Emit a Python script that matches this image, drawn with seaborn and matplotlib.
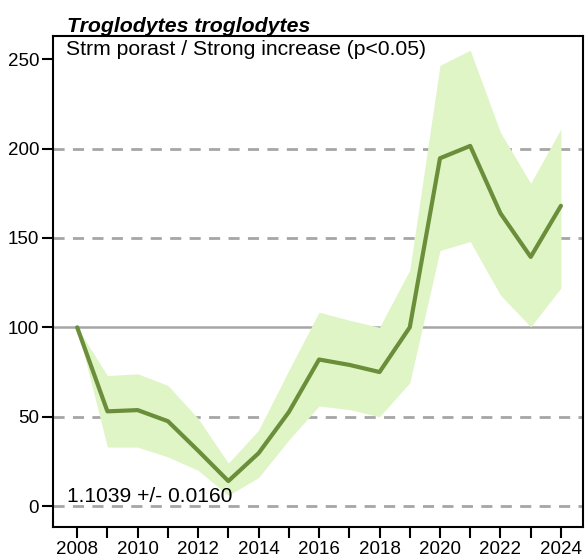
import matplotlib
matplotlib.use("Agg")
import matplotlib.pyplot as plt
import seaborn as sns
import pandas as pd

years = list(range(2008, 2025))
index = [100, 53, 53.7, 47.5, 31, 14, 29.6, 52.6, 82, 79, 75, 100, 194.6, 201.5, 163.8, 139.4, 168]
upper = [100, 73, 74, 67.5, 49, 24, 42.5, 76, 108.5, 104, 100, 132, 246.6, 255, 209, 180.6, 211]
lower = [100, 33, 33, 27.5, 20, 6, 16, 37, 56, 54, 50, 69, 143, 148, 118, 100.3, 122]

title = "Troglodytes troglodytes"
trend_text = "Strm porast / Strong increase (p<0.05)"
slope_text = "1.1039 +/- 0.0160"
xticks_labels = list(range(2008, 2025, 2))
yticks = [0, 50, 100, 150, 200, 250]

df = pd.DataFrame({"year": years, "index": index, "upper": upper, "lower": lower})

sns.set_theme(style="white")
plt.rcParams['font.family'] = ['Liberation Sans', 'DejaVu Sans']

fig = plt.figure(figsize=(5.85, 5.59), dpi=100)
ax = fig.add_axes([53/585, 1-527/559, 530/585, 491/559])

for v in [0, 50, 150, 200]:
    ax.axhline(v, color="#a6a6a6", lw=2, ls=(0, (4, 3)), zorder=1)
ax.axhline(100, color="#a6a6a6", lw=1.8, zorder=1)

ax.fill_between(df["year"], df["lower"], df["upper"], color="#dff5c6", lw=0, zorder=2)
sns.lineplot(data=df, x="year", y="index", color="#6b8e3a", lw=3, ax=ax, zorder=3)

ax.set_xlim(2007.2, 2024.73)
ax.set_ylim(-11.7, 263)
ax.set_xticks(years)
ax.set_xticklabels([str(y) if y in xticks_labels else "" for y in years])
ax.set_yticks(yticks)
ax.set_xlabel("")
ax.set_ylabel("")
ax.tick_params(axis="both", which="both", direction="out", length=8, width=1.5,
               color="black", labelsize=13.5, labelcolor="black", bottom=True, left=True, pad=2)
for s in ax.spines.values():
    s.set_color("black")
    s.set_linewidth(1.5)
    s.set_visible(True)

ax.text(13/530, (527-55)/491, trend_text, transform=ax.transAxes, ha="left", va="baseline", fontsize=15.2, color="black")
ax.text(14/530, (527-502)/491, slope_text, transform=ax.transAxes, ha="left", va="baseline", fontsize=15.1, color="black")
fig.text(67/585, 1-32/559, title, ha="left", va="baseline", fontsize=15.3, fontweight="bold", fontstyle="italic", color="black")

fig.savefig("out.png", dpi=100)
